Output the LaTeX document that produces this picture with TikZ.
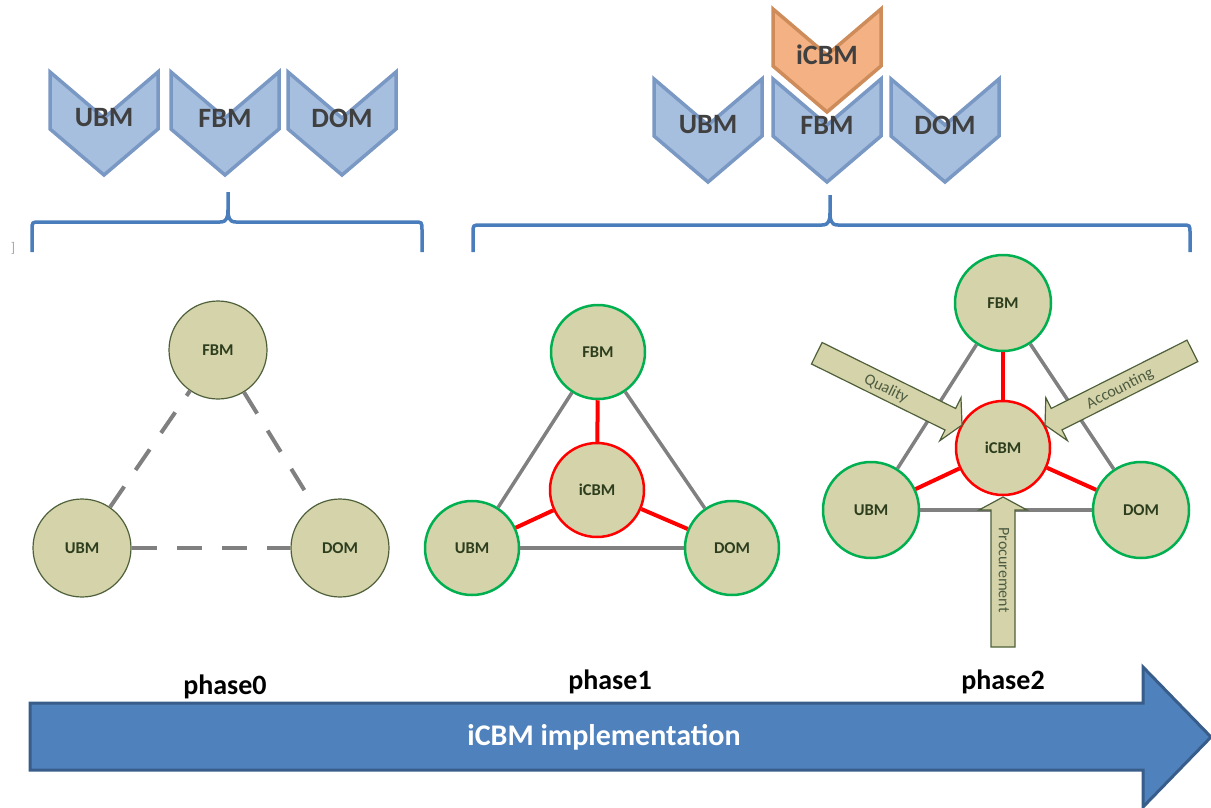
\documentclass[tikz,border=0pt]{standalone}
\usepackage{fontspec}
\setmainfont{Carlito}
\definecolor{chevfill}{RGB}{167,191,223}
\definecolor{chevline}{RGB}{122,152,196}
\definecolor{orfill}{RGB}{244,177,131}
\definecolor{orline}{RGB}{205,140,90}
\definecolor{modfill}{RGB}{213,211,170}
\definecolor{modline}{RGB}{78,96,58}
\definecolor{modtext}{RGB}{45,62,30}
\definecolor{bracecol}{RGB}{74,125,187}
\definecolor{bigblue}{RGB}{79,129,189}
\definecolor{bigline}{RGB}{56,93,138}
\definecolor{okgreen}{RGB}{0,176,80}

\tikzset{
  pics/chevron/.style 2 args={code={
    \draw[#1] (-54,-46) -- (0,0) -- (54,-46) -- (54,11) -- (0,57) -- (-54,11) -- cycle;
    \node[font=\fontsize{28}{30}\selectfont\bfseries,text=black!75] (-t) at (0,0) {#2};
  }},
  bluechev/.style={fill=chevfill,draw=chevline,line width=3.5pt},
  orchev/.style={fill=orfill,draw=orline,line width=3.5pt},
  mod/.style={circle,fill=modfill,inner sep=0pt,font=\fontsize{16.5}{18}\selectfont\bfseries,text=modtext},
  mod0/.style={mod,draw=modline,line width=1.2pt,minimum size=98pt},
  mod1/.style={mod,draw=okgreen,line width=2.5pt,minimum size=94pt},
  core/.style={mod,draw=red,line width=2.5pt,minimum size=94pt},
  dashlink/.style={draw=gray,line width=4pt,dash pattern=on 25pt off 20pt},
  link/.style={draw=gray,line width=3.5pt},
  redlink/.style={draw=red,line width=4pt},
  feed/.style={fill=modfill,draw=modline,line width=1.2pt},
  feedtext/.style={font=\fontsize{16}{17}\selectfont,text=modtext!85},
  phase/.style={font=\fontsize{28}{30}\selectfont\bfseries},
  bracestyle/.style={draw=bracecol,line width=3.5pt}
}

% brace: left x, middle x, right x, height
\newcommand{\phasebrace}[4]{
  \draw[bracestyle] (#1,252) -- (#1,#4+8) .. controls (#1,#4) .. (#1+8,#4) -- (#2-8,#4)
    .. controls (#2-1,#4) and (#2,#4-5) .. (#2,#4-12) -- (#2,#4-30);
  \draw[bracestyle] (#3,252) -- (#3,#4+8) .. controls (#3,#4) .. (#3-8,#4) -- (#2+8,#4)
    .. controls (#2+1,#4) and (#2,#4-5) .. (#2,#4-12);
}
% block arrow: tip, angle, length
\newcommand{\feedarrow}[3]{
  \draw[feed,shift={#1},rotate=#2] (0,0) -- (-13,-24) -- (-13,-12) -- (-#3,-12)
    -- (-#3,12) -- (-13,12) -- (-13,24) -- cycle;
}

\begin{document}
\begin{tikzpicture}[x=1pt,y=-1pt]
\useasboundingbox (0,0) rectangle (1211,807);

%timeline
\draw[fill=bigblue,draw=bigline,line width=3pt] (30,703) -- (1143,703) -- (1143,667) -- (1211,737)
  -- (1143,807) -- (1143,770) -- (30,770) -- cycle;
\node[text=white,font=\fontsize{30}{32}\selectfont\bfseries] (impl) at (604,737) {iCBM implementation};
\node[phase] (ph0) at (225,687) {phase0};
\node[phase] (ph1) at (610,682) {phase1};
\node[phase] (ph2) at (1003,682) {phase2};

%braces
\node[text=black!35,font=\fontsize{14}{14}\selectfont] (mark) at (13,248) {]};
\phasebrace{32}{228}{422}{222}
\phasebrace{473}{830}{1190}{225}

%chevrons
\pic (cu0) at (104,118) {chevron={bluechev}{UBM}};
\pic (cf0) at (225,118) {chevron={bluechev}{FBM}};
\pic (cd0) at (342,118) {chevron={bluechev}{DOM}};
\pic (cu1) at (708,125) {chevron={bluechev}{UBM}};
\pic (cf1) at (827,125) {chevron={bluechev}{FBM}};
\pic (cd1) at (945,125) {chevron={bluechev}{DOM}};
\pic (ci1) at (827,55) {chevron={orchev}{iCBM}};

%phase0
\node[mod0] (f0) at (218,350) {FBM};
\node[mod0] (u0) at (82,548) {UBM};
\node[mod0] (d0) at (340,548) {DOM};
\draw[dashlink] (u0) -- (f0);
\draw[dashlink] (f0) -- (d0);
\draw[dashlink] (u0) -- (d0);

%phase1
\node[mod1] (f1) at (598,352) {FBM};
\node[core] (i1) at (597,490) {iCBM};
\node[mod1] (u1) at (472,548) {UBM};
\node[mod1] (d1) at (732,548) {DOM};
\draw[link] (u1) -- (f1);
\draw[link] (f1) -- (d1);
\draw[link] (u1) -- (d1);
\foreach \m in {f1,u1,d1} \draw[redlink] (i1) -- (\m);

%phase2
\node[mod1,minimum size=96pt] (f2) at (1003,303) {FBM};
\node[core] (i2) at (1003,448) {iCBM};
\node[mod1,minimum size=96pt] (u2) at (871,510) {UBM};
\node[mod1,minimum size=96pt] (d2) at (1141,510) {DOM};
\draw[link] (u2) -- (f2);
\draw[link] (f2) -- (d2);
\draw[link] (u2) -- (d2);
\foreach \m in {f2,u2,d2} \draw[redlink] (i2) -- (\m);

\feedarrow{(962,425)}{-26.3}{162}
\feedarrow{(1045,425)}{206.7}{165}
\feedarrow{(1003,497)}{90}{150}
\node[feedtext,rotate=-26.3] (qual) at (886,389) {Quality};
\node[feedtext,rotate=26.7] (acc) at (1120,389) {Accounting};
\node[feedtext,rotate=-90] (proc) at (1004,570) {Procurement};
\end{tikzpicture}
\end{document}
